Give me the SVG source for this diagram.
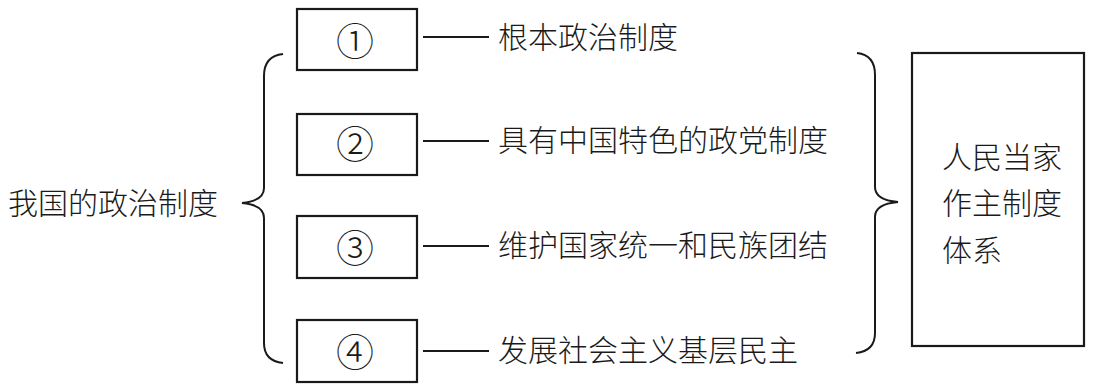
<svg xmlns="http://www.w3.org/2000/svg" width="1110" height="387" viewBox="0 0 1110 387">
<style>
.bx{fill:none;stroke:#1a1a1a;stroke-width:2.2}
.ln{fill:none;stroke:#1a1a1a;stroke-width:2}
.t{font-family:"Noto Sans CJK SC","Noto Sans CJK JP",sans-serif;font-size:30px;font-weight:300;fill:#1a1a1a}
.n{font-family:"Noto Sans CJK SC","Noto Sans CJK JP",sans-serif;font-size:38px;font-weight:300;fill:#1a1a1a;text-anchor:middle}
</style>
<rect width="1110" height="387" fill="#ffffff"/>
<g id="root">
<text class="t" x="8" y="214">我国的政治制度</text>
</g>
<g id="node1">
<rect class="bx" x="297" y="9" width="120" height="61"/>
<text class="n" x="355" y="55">①</text>
</g>
<g id="node2">
<rect class="bx" x="297" y="114" width="120" height="61"/>
<text class="n" x="355" y="158">②</text>
</g>
<g id="node3">
<rect class="bx" x="297" y="216" width="120" height="62"/>
<text class="n" x="355" y="262">③</text>
</g>
<g id="node4">
<rect class="bx" x="297" y="320" width="120" height="62"/>
<text class="n" x="355" y="366">④</text>
</g>
<g id="label1"><text class="t" x="498" y="48">根本政治制度</text></g>
<g id="label2"><text class="t" x="498" y="151">具有中国特色的政党制度</text></g>
<g id="label3"><text class="t" x="498" y="256">维护国家统一和民族团结</text></g>
<g id="label4"><text class="t" x="498" y="361">发展社会主义基层民主</text></g>
<g id="result">
<rect class="bx" x="912" y="53" width="172" height="293"/>
<text class="t" x="942" y="168">人民当家</text>
<text class="t" x="942" y="214">作主制度</text>
<text class="t" x="942" y="261">体系</text>
</g>
<g id="connectors">
<path class="ln" d="M283,54 Q264,56 264,76 L264,188 Q264,201 242,203 Q264,205 264,218 L264,343 Q264,361 283,363"/>
<path class="ln" d="M857,53 Q875,55 875,75 L875,187 Q875,200 898,202 Q875,204 875,217 L875,333 Q875,351 856,353"/>
<line class="ln" x1="423" y1="37" x2="489" y2="37"/>
<line class="ln" x1="423" y1="141" x2="489" y2="141"/>
<line class="ln" x1="423" y1="246" x2="489" y2="246"/>
<line class="ln" x1="423" y1="351" x2="489" y2="351"/>
</g>
</svg>
